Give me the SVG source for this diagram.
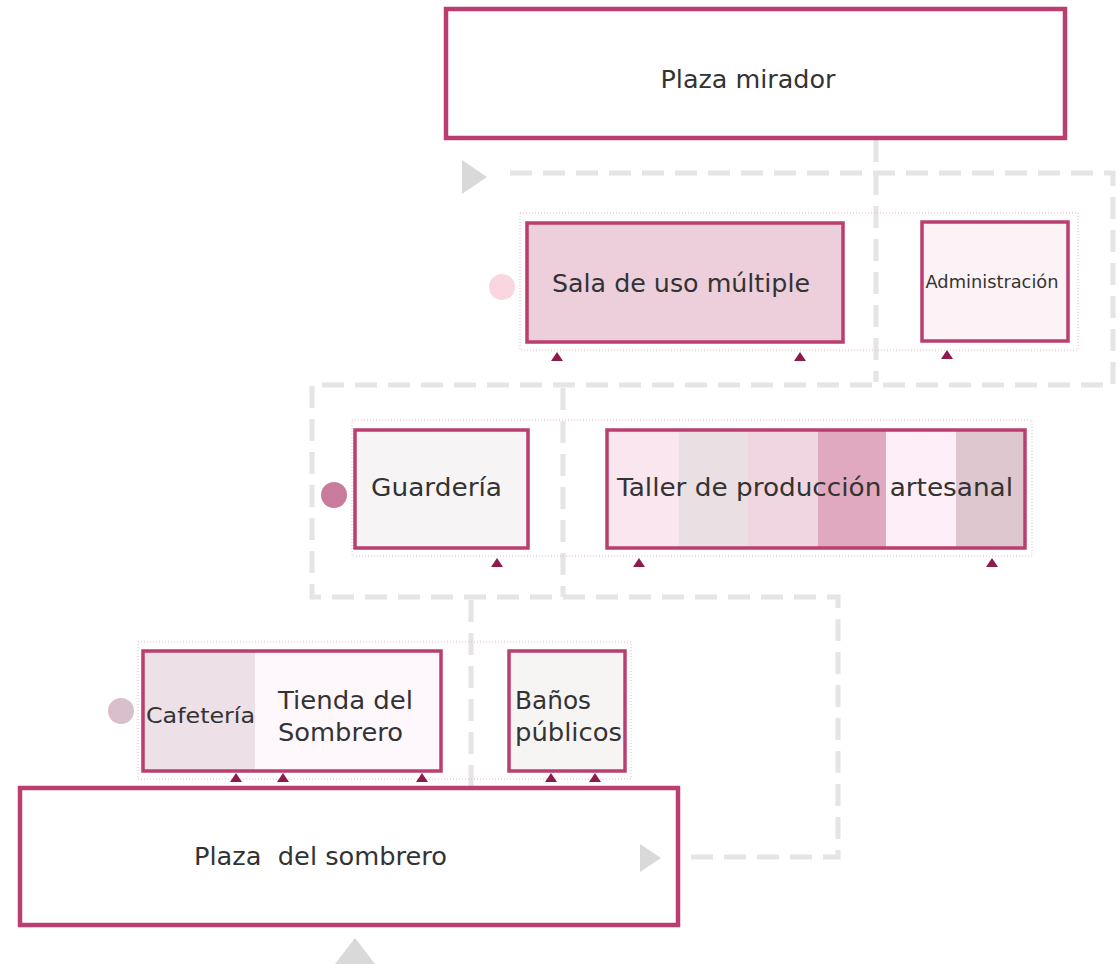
<svg xmlns="http://www.w3.org/2000/svg" width="1120" height="964" viewBox="0 0 1120 964">
<style>
.box{stroke:#BA3E70;stroke-width:3.5}
.big{stroke:#BA3E70;stroke-width:4.5}
.outer{fill:none;stroke:#E6B5C6;stroke-width:1;stroke-dasharray:1 2}
.dash{fill:none;stroke:#E6E4E5;stroke-width:5;stroke-dasharray:22 11}
.tri{fill:#8E1B4B}
.gtri{fill:#D9D9D9}
text{font-family:"DejaVu Sans","Liberation Sans",sans-serif;fill:#333333}
.l{font-size:24px}
</style>
<rect width="1120" height="964" fill="#FFFFFF"/>
<g id="connectors">
<path class="dash" d="M 510 173 H 1113 V 385 H 312 V 597 H 838 V 857 H 680"/>
<path class="dash" d="M 876 140 V 382"/>
<path class="dash" d="M 563 388 V 597"/>
<path class="dash" d="M 471 600 V 787"/>
<polygon class="gtri" points="462,160 462,194 487,177"/>
<polygon class="gtri" points="640,844 640,872 661,858"/>
<polygon class="gtri" points="335,964 355,938 375,964"/>
</g>
<g id="plaza-mirador">
<rect class="big" x="446" y="9" width="619" height="129" fill="none"/>
<text class="l" x="748" y="88" text-anchor="middle" textLength="175" lengthAdjust="spacingAndGlyphs">Plaza mirador</text>
</g>
<g id="row1">
<rect class="outer" x="520" y="213" width="558" height="137"/>
<circle cx="502" cy="287" r="13" fill="#F9D6E0"/>
</g>
<g id="sala">
<rect class="box" x="527" y="223" width="316" height="119" fill="#ECCFDB"/>
<text class="l" x="681" y="292" text-anchor="middle" textLength="258" lengthAdjust="spacingAndGlyphs">Sala de uso múltiple</text>
<polygon class="tri" points="551,361 563,361 557,352"/>
<polygon class="tri" points="794,361 806,361 800,352"/>
</g>
<g id="administracion">
<rect class="box" x="922" y="222" width="146" height="119" fill="#FDF3F7"/>
<text x="992" y="288" font-size="17" text-anchor="middle" textLength="133" lengthAdjust="spacingAndGlyphs">Administración</text>
<polygon class="tri" points="941,359 953,359 947,350"/>
</g>
<g id="row2">
<rect class="outer" x="352" y="420" width="680" height="136"/>
<circle cx="334" cy="495" r="13" fill="#C97B9C"/>
</g>
<g id="guarderia">
<rect class="box" x="355" y="430" width="173" height="118" fill="#F7F4F5"/>
<text class="l" x="371" y="496" textLength="131" lengthAdjust="spacingAndGlyphs">Guardería</text>
<polygon class="tri" points="491,567 503,567 497,558"/>
</g>
<g id="taller">
<rect x="607" y="430" width="72" height="118" fill="#FAE6EF"/>
<rect x="679" y="430" width="69" height="118" fill="#EADFE2"/>
<rect x="748" y="430" width="70" height="118" fill="#F0D6E0"/>
<rect x="818" y="430" width="68" height="118" fill="#E0A9C0"/>
<rect x="886" y="430" width="70" height="118" fill="#FEEEF7"/>
<rect x="956" y="430" width="69" height="118" fill="#DFC7CF"/>
<rect class="box" x="607" y="430" width="418" height="118" fill="none"/>
<text class="l" x="617" y="496" textLength="396" lengthAdjust="spacingAndGlyphs">Taller de producción artesanal</text>
<polygon class="tri" points="633,567 645,567 639,558"/>
<polygon class="tri" points="986,567 998,567 992,558"/>
</g>
<g id="row3">
<rect class="outer" x="138" y="642" width="493" height="137"/>
<circle cx="121" cy="711" r="13" fill="#D8BFCB"/>
</g>
<g id="cafeteria-tienda">
<rect x="143" y="651" width="112" height="120" fill="#EDE0E7"/>
<rect x="255" y="651" width="186" height="120" fill="#FEF7FB"/>
<rect class="box" x="143" y="651" width="298" height="120" fill="none"/>
<text x="146" y="723" font-size="21" textLength="109" lengthAdjust="spacingAndGlyphs">Cafetería</text>
<text class="l" x="278" y="709" textLength="135" lengthAdjust="spacingAndGlyphs">Tienda del</text>
<text class="l" x="278" y="741" textLength="125" lengthAdjust="spacingAndGlyphs">Sombrero</text>
<polygon class="tri" points="230,782 242,782 236,773"/>
<polygon class="tri" points="277,782 289,782 283,773"/>
<polygon class="tri" points="416,782 428,782 422,773"/>
</g>
<g id="banos">
<rect class="box" x="509" y="651" width="116" height="120" fill="#F7F5F4"/>
<text class="l" x="515" y="709" textLength="76" lengthAdjust="spacingAndGlyphs">Baños</text>
<text class="l" x="515" y="741" textLength="107" lengthAdjust="spacingAndGlyphs">públicos</text>
<polygon class="tri" points="545,782 557,782 551,773"/>
<polygon class="tri" points="589,782 601,782 595,773"/>
</g>
<g id="plaza-sombrero">
<rect class="big" x="20" y="788" width="658" height="137" fill="none"/>
<text class="l" x="194" y="865" textLength="253" lengthAdjust="spacingAndGlyphs" xml:space="preserve">Plaza  del sombrero</text>
</g>
</svg>
